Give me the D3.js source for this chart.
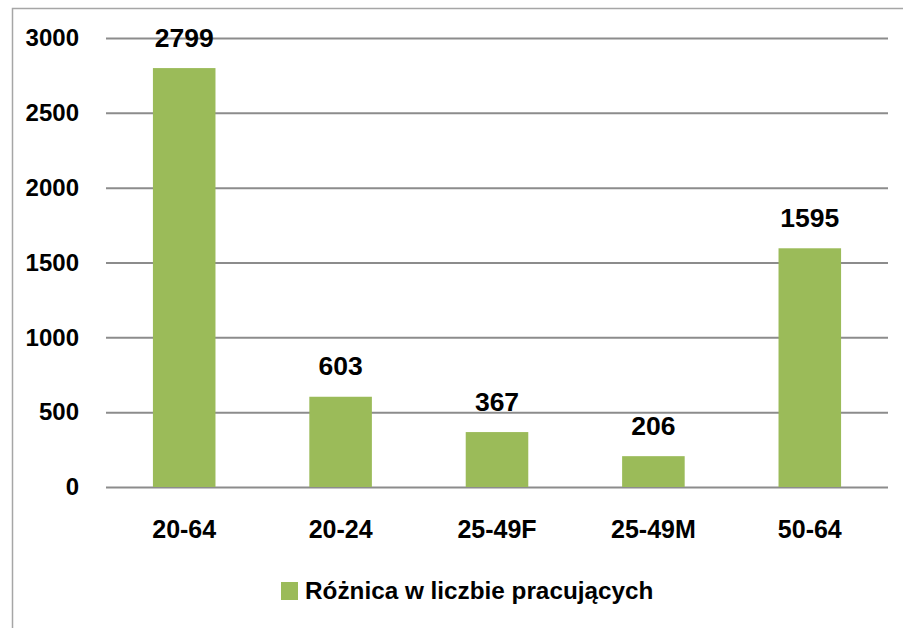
<!DOCTYPE html>
<html><head><meta charset="utf-8">
<script src="https://cdn.jsdelivr.net/npm/d3@7"></script>
<style>body{margin:0;background:#fff}svg{display:block}text{font-family:"Liberation Sans",Arial,sans-serif;font-weight:bold;fill:#000}</style>
</head><body><svg id="c" width="903" height="628"></svg>
<script>
const categories = ["20-64","20-24","25-49F","25-49M","50-64"];
const values = [2799,603,367,206,1595];
const yTicks = [0,500,1000,1500,2000,2500,3000];
const seriesName = "Różnica w liczbie pracujących";

const svg = d3.select("#c");
const m = {left:106, right:15, top:38, bottom:141};
const W = 903, H = 628;
// frame
svg.append("path").attr("d","M12.5,628 V8.5 H903").attr("fill","none").attr("stroke","#a6a6a6").attr("stroke-width",1.5);

const x = d3.scaleBand().domain(categories).range([m.left, W-m.right]).paddingInner(0.6).paddingOuter(0.3);
const y = d3.scaleLinear().domain([0,3000]).range([H-m.bottom, m.top]);

const yAxis = d3.axisLeft(y).tickValues(yTicks).tickFormat(d3.format("d")).tickSize(-(W-m.right-m.left)).tickPadding(27);
const gy = svg.append("g").attr("transform",`translate(${m.left},0)`).call(yAxis);
gy.select(".domain").remove();
gy.selectAll(".tick line").attr("stroke","#8c8c8c").attr("stroke-width",2);
gy.selectAll(".tick text").attr("font-size",24).attr("font-family","Liberation Sans").attr("font-weight","bold").attr("fill","#000");

svg.append("g").selectAll("rect").data(values).join("rect")
  .attr("x",(d,i)=>x(categories[i])).attr("width",x.bandwidth())
  .attr("y",d=>y(d)).attr("height",d=>y(0)-y(d)).attr("fill","#9bbb59");

svg.append("g").selectAll("text").data(values).join("text")
  .attr("x",(d,i)=>x(categories[i])+x.bandwidth()/2).attr("y",d=>y(d)-21.5)
  .attr("text-anchor","middle").attr("font-size",26.5).text(d=>d);

const xAxis = d3.axisBottom(x).tickSize(0).tickPadding(33);
const gx = svg.append("g").attr("transform",`translate(0,${y(0)})`).call(xAxis);
gx.select(".domain").remove();
gx.selectAll(".tick text").attr("font-size",25).attr("font-family","Liberation Sans").attr("font-weight","bold").attr("fill","#000");

const lg = svg.append("g");
lg.append("rect").attr("x",281).attr("y",582).attr("width",17).attr("height",18).attr("fill","#9bbb59");
lg.append("text").attr("x",305).attr("y",599).attr("font-size",24.3).text(seriesName);
</script></body></html>
